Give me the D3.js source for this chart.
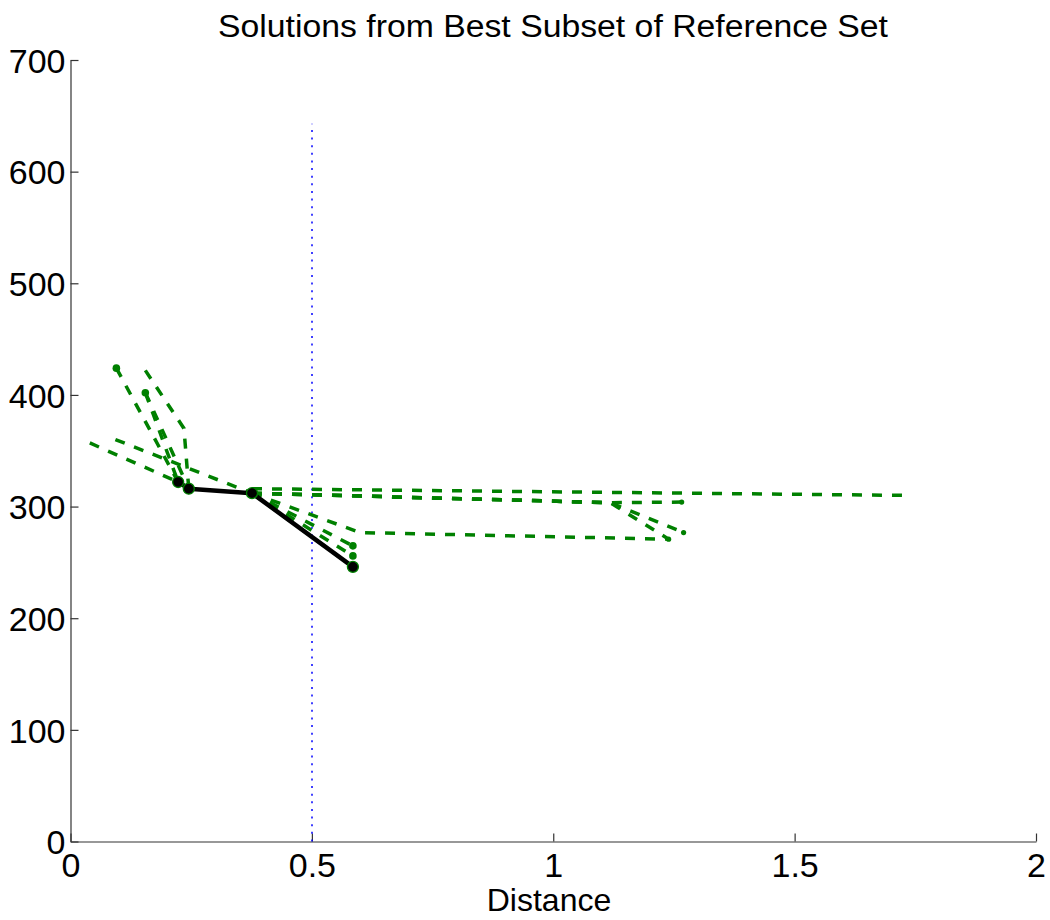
<!DOCTYPE html>
<html>
<head>
<meta charset="utf-8">
<script src="https://cdn.jsdelivr.net/npm/d3@7"></script>
<style>
  body { margin: 0; background: #fff; }
  text { font-family: "Liberation Sans", Arial, sans-serif; fill: #000; }
</style>
</head>
<body>
<svg id="chart" width="1050" height="920"></svg>
<script>
// chart values
const xTicks = [0, 0.5, 1, 1.5, 2];
const yTicks = [0, 100, 200, 300, 400, 500, 600, 700];

// best subset solution (black)
const bestPath = [[0.223, 322], [0.245, 316], [0.376, 312], [0.585, 246]];

// other solutions from the reference set (green dashed)
const greenPaths = [
  [[0.095, 424], [0.223, 322]],
  [[0.155, 402], [0.223, 322]],
  [[0.155, 402], [0.245, 316]],
  [[0.155, 422], [0.235, 370], [0.245, 316]],
  [[0.040, 357], [0.223, 322]],
  [[0.093, 360], [0.376, 312]],
  [[0.376, 316], [1.729, 310]],
  [[0.376, 312], [1.118, 303.5], [1.266, 304]],
  [[0.376, 312], [1.118, 303.5], [1.270, 276.7]],
  [[0.376, 312], [1.118, 303.5], [1.239, 270.8]],
  [[0.376, 312], [0.585, 264.8]],
  [[0.376, 312], [0.585, 255.8]],
  [[0.376, 312], [0.600, 276.7], [1.239, 270.8]],
  [[0.376, 312], [0.585, 246]]
];
const greenDots = [[0.095, 424], [0.155, 402], [0.585, 264.8], [0.585, 255.8]];
const greenEndDots = [[1.266, 304], [1.270, 276.7], [1.239, 270.8]];

// distance cutoff (blue dotted)
const cutoffX = 0.5;
const cutoffTop = 643;

const title = "Solutions from Best Subset of Reference Set";
const xLabel = "Distance";

const svg = d3.select("#chart");

const x = d3.scaleLinear().domain([0, 2]).range([70.5, 1036]);
const y = d3.scaleLinear().domain([0, 700]).range([841.5, 60]);

const line = d3.line()
  .x((d) => x(d[0]))
  .y((d) => y(d[1]));

// axes: ticks point inward, no box
const xAxis = d3.axisBottom(x).tickValues(xTicks).tickSizeInner(-8).tickSizeOuter(0)
  .tickFormat((d) => d3.format("")(d));
const yAxis = d3.axisLeft(y).tickValues(yTicks).tickSizeInner(-8).tickSizeOuter(0);

const gx = svg.append("g").attr("transform", `translate(0,${y(0)})`).call(xAxis);
const gy = svg.append("g").attr("transform", `translate(${x(0)},0)`).call(yAxis);

[gx, gy].forEach((g) => {
  g.select(".domain").attr("stroke", "#333").attr("stroke-width", 1.2);
  g.selectAll(".tick line").attr("stroke", "#333").attr("stroke-width", 1.2);
  g.selectAll(".tick text").attr("font-size", 34).attr("fill", "#000")
    .style("font-family", "'Liberation Sans', Arial, sans-serif");
});
gx.selectAll(".tick text").attr("y", 11).attr("dy", "0.71em");
gy.selectAll(".tick text").attr("x", -5).attr("dy", "0.36em");

// blue dotted cutoff
const cx = Math.round(x(cutoffX));
svg.append("line")
  .attr("x1", cx).attr("x2", cx)
  .attr("y1", y(0)).attr("y2", y(cutoffTop))
  .attr("stroke", "#0000ff")
  .attr("stroke-width", 1.5)
  .attr("stroke-dasharray", "2,5.63");

// green solutions
svg.append("g")
  .selectAll("path")
  .data(greenPaths)
  .join("path")
  .attr("d", line)
  .attr("fill", "none")
  .attr("stroke", "#008000")
  .attr("stroke-width", 3.5)
  .attr("stroke-dasharray", "10,10");

svg.append("g")
  .selectAll("circle")
  .data(greenDots)
  .join("circle")
  .attr("cx", (d) => x(d[0]))
  .attr("cy", (d) => y(d[1]))
  .attr("r", 3.8)
  .attr("fill", "#008000");

svg.append("g")
  .selectAll("circle")
  .data(greenEndDots)
  .join("circle")
  .attr("cx", (d) => x(d[0]))
  .attr("cy", (d) => y(d[1]))
  .attr("r", 2.6)
  .attr("fill", "#008000");

// best solution
svg.append("path")
  .datum(bestPath)
  .attr("d", line)
  .attr("fill", "none")
  .attr("stroke", "#000")
  .attr("stroke-width", 4.5)
  .attr("stroke-linejoin", "round");

svg.append("g")
  .selectAll("circle")
  .data(bestPath)
  .join("circle")
  .attr("cx", (d) => x(d[0]))
  .attr("cy", (d) => y(d[1]))
  .attr("r", 5.5)
  .attr("fill", "#000")
  .attr("stroke", "#008000")
  .attr("stroke-width", 1.3);

// labels
svg.append("text")
  .attr("x", 553).attr("y", 37)
  .attr("text-anchor", "middle")
  .attr("font-size", 31)
  .attr("textLength", 670)
  .attr("lengthAdjust", "spacingAndGlyphs")
  .text(title);

svg.append("text")
  .attr("x", 549).attr("y", 911)
  .attr("text-anchor", "middle")
  .attr("font-size", 32)
  .text(xLabel);
</script>
</body>
</html>
